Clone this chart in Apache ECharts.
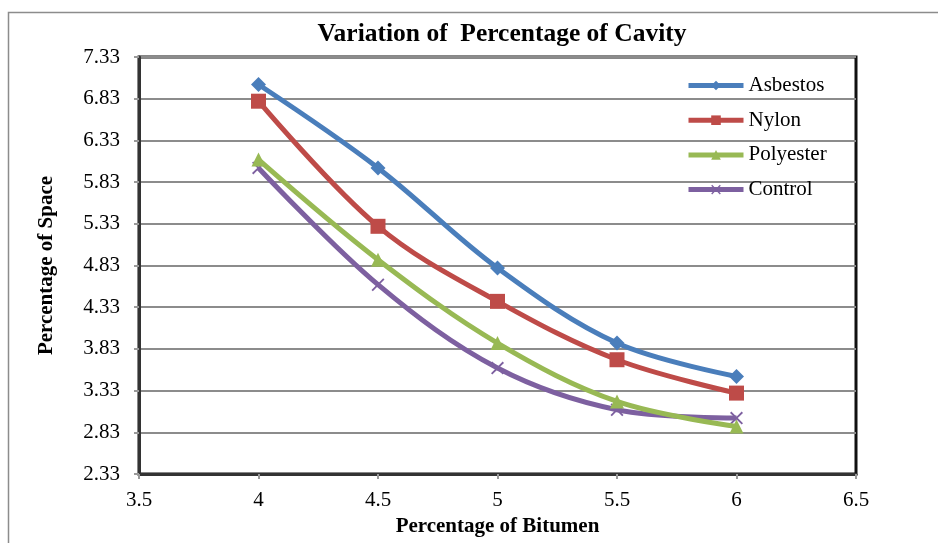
<!DOCTYPE html>
<html>
<head>
<meta charset="utf-8">
<script src="https://cdn.jsdelivr.net/npm/echarts@6/dist/echarts.min.js"></script>
<style>
  html, body { margin: 0; padding: 0; background: #fff; }
  #chart { width: 938px; height: 543px; }
</style>
</head>
<body>
<div id="chart"></div>
<script>
// percentage of bitumen (x)
const bitumen = [4, 4.5, 5, 5.5, 6]

// percentage of space (y)
const asbestos = [7.0, 6.0, 4.8, 3.9, 3.5]
const nylon = [6.8, 5.3, 4.4, 3.7, 3.3]
const polyester = [6.1, 4.9, 3.9, 3.2, 2.9]
const control = [6.0, 4.6, 3.6, 3.1, 3.0]

const seriesNames = ['Asbestos', 'Nylon', 'Polyester', 'Control']
const seriesColors = ['#4A7EBB', '#BE4B48', '#98B954', '#7D60A0']

const font = '"Liberation Serif", "Times New Roman", serif'
const crossPath = 'path://M0,1 L1,0 L5,4 L9,0 L10,1 L6,5 L10,9 L9,10 L5,6 L1,10 L0,9 L4,5 Z'
const symbols = ['diamond', 'rect', 'triangle', crossPath]
const symbolSizes = [15, 15, 14, 13]

const pairs = (ys) => bitumen.map((x, i) => [x, ys[i]])
const allData = [asbestos, nylon, polyester, control]

const chart = echarts.init(document.getElementById('chart'))

chart.setOption({
  animation: false,
  backgroundColor: '#fff',
  title: {
    text: 'Variation of  Percentage of Cavity',
    left: 497,
    top: 16,
    textAlign: 'center',
    textStyle: { fontFamily: font, fontSize: 25.5, fontWeight: 'bold', color: '#000' }
  },
  graphic: [{
    type: 'rect',
    shape: { x: 8.5, y: 12.5, width: 960, height: 560 },
    style: { fill: 'none', stroke: '#8c8c8c', lineWidth: 1.5 },
    silent: true
  }],
  legend: {
    orient: 'vertical',
    left: 686,
    top: 75,
    padding: 0,
    itemWidth: 55,
    itemHeight: 12,
    itemGap: 13.7,
    data: seriesNames,
    lineStyle: { width: 5 },
    textStyle: { fontFamily: font, fontSize: 21, color: '#000', lineHeight: 20 }
  },
  grid: {
    left: 139,
    right: 82,
    top: 57,
    bottom: 69,
    outerBoundsMode: 'none',
    show: true,
    borderColor: '#111',
    borderWidth: 3
  },
  xAxis: {
    type: 'value',
    min: 3.5,
    max: 6.5,
    interval: 0.5,
    name: 'Percentage of Bitumen',
    nameLocation: 'middle',
    nameGap: 42,
    nameTextStyle: { fontFamily: font, fontSize: 21, fontWeight: 'bold', color: '#000' },
    axisLine: { show: true, lineStyle: { color: '#333', width: 3 } },
    axisTick: { show: true, length: 5, lineStyle: { color: '#999', width: 2 } },
    axisLabel: { fontFamily: font, fontSize: 21, color: '#000', margin: 16 },
    splitLine: { show: false }
  },
  yAxis: {
    type: 'value',
    min: 2.33,
    max: 7.33,
    interval: 0.5,
    name: 'Percentage of Space',
    nameLocation: 'middle',
    nameGap: 82,
    nameTextStyle: { fontFamily: font, fontSize: 21, fontWeight: 'bold', color: '#000' },
    axisLine: { show: true, lineStyle: { color: '#333', width: 3 } },
    axisTick: { show: true, length: 5, lineStyle: { color: '#999', width: 2 } },
    axisLabel: {
      fontFamily: font, fontSize: 21, color: '#000', margin: 19,
      formatter: (v) => v.toFixed(2)
    },
    splitLine: { show: true, lineStyle: { color: '#8c8c8c', width: 2 } }
  },
  series: seriesNames.map((name, i) => ({
    name: name,
    type: 'line',
    smooth: 0.35,
    data: pairs(allData[i]),
    symbol: symbols[i],
    symbolSize: symbolSizes[i],
    showAllSymbol: true,
    lineStyle: { color: seriesColors[i], width: 5 },
    itemStyle: { color: seriesColors[i], borderWidth: 0 },
    z: 10 - i
  }))
})
</script>
</body>
</html>
